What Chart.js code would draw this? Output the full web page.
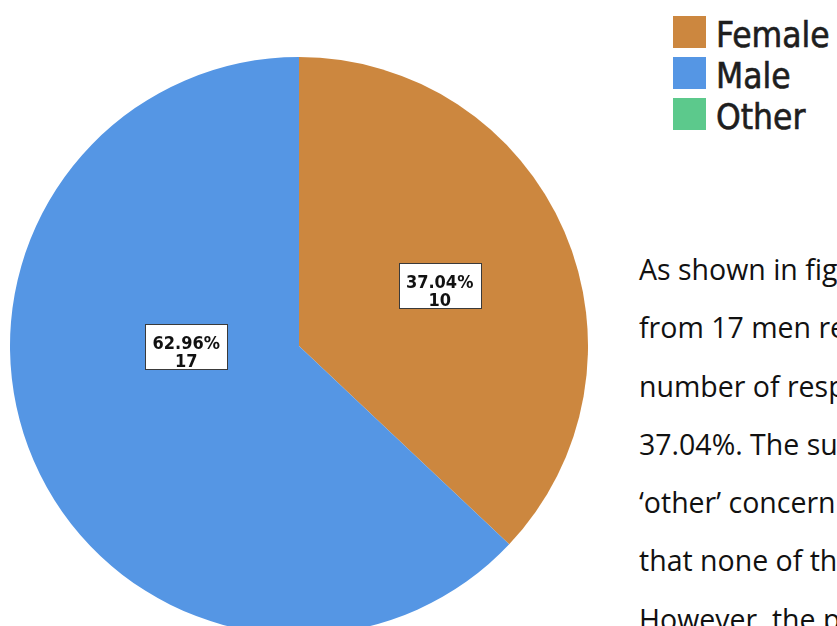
<!DOCTYPE html>
<html>
<head>
<meta charset="utf-8">
<script src="https://cdn.jsdelivr.net/npm/chart.js@4/dist/chart.umd.min.js"></script>
<style>
  html, body { margin:0; padding:0; background:#fff; width:837px; height:626px; overflow:hidden; }
  #pieWrap { position:absolute; left:10px; top:57px; width:578px; height:578px; }
  #legend { position:absolute; left:673px; top:15px; font-family:"DejaVu Sans Condensed", "DejaVu Sans", sans-serif; font-size:35px; color:#1e1e1e; }
  .lg { position:relative; height:41px; }
  .lg .sw { position:absolute; left:0; top:1px; width:33px; height:32px; }
  .lg .tx { position:absolute; left:43px; top:0px; white-space:nowrap; line-height:41px; -webkit-text-stroke:0.6px #1e1e1e; }
  #body { position:absolute; left:639px; top:240px; font-family:"Open Sans", sans-serif; font-size:28.5px; line-height:58.3px; color:#111; white-space:nowrap; }
</style>
</head>
<body>
<div id="pieWrap"><canvas id="c" width="578" height="578"></canvas></div>
<div id="legend"></div>
<div id="body"></div>
<script>
const categories = ["Female", "Male", "Other"];
const counts = [10, 17, 0];
const colors = ["#CC873F", "#5596E4", "#5CC98C"];
const paragraphLines = [
  "As shown in figure 1, the responses came",
  "from 17 men representing the largest",
  "number of respondents, and 10 women,",
  "37.04%. The survey also included an",
  "\u2018other\u2019 concerning gender, which shows",
  "that none of the respondents selected it.",
  "However, the participants were"
];

const total = counts.reduce((a, b) => a + b, 0);

const legend = document.getElementById('legend');
categories.forEach((c, i) => {
  const row = document.createElement('div'); row.className = 'lg';
  const sw = document.createElement('div'); sw.className = 'sw'; sw.style.background = colors[i];
  const tx = document.createElement('div'); tx.className = 'tx'; tx.textContent = c;
  row.appendChild(sw); row.appendChild(tx); legend.appendChild(row);
});
const body = document.getElementById('body');
paragraphLines.forEach(l => { const d = document.createElement('div'); d.textContent = l; body.appendChild(d); });

const boxLabels = {
  id: 'boxLabels',
  afterDatasetsDraw(chart, args, opts) {
    const ctx = chart.ctx;
    const meta = chart.getDatasetMeta(0);
    meta.data.forEach((arc, i) => {
      const v = counts[i];
      if (!v) return;
      const p = arc.getProps(['x', 'y', 'startAngle', 'endAngle', 'outerRadius'], true);
      const pl = opts.placements[i] || {};
      const ang = (pl.angle !== undefined) ? pl.angle : (p.startAngle + p.endAngle) / 2;
      const r = p.outerRadius * (pl.r || 0.5);
      const x = p.x + Math.cos(ang) * r;
      const y = p.y + Math.sin(ang) * r;
      const l1 = (v / total * 100).toFixed(2) + '%';
      const l2 = String(v);
      ctx.save();
      ctx.font = 'bold 18px "DejaVu Sans Condensed", "DejaVu Sans", sans-serif';
      const w = Math.round(Math.max(ctx.measureText(l1).width, ctx.measureText(l2).width) + 15);
      const h = 45;
      const bx = Math.round(x - w / 2) + 0.5, by = Math.round(y - h / 2) + 0.5;
      ctx.fillStyle = '#fff';
      ctx.fillRect(bx, by, w, h);
      ctx.strokeStyle = '#3a3a3a';
      ctx.lineWidth = 1;
      ctx.strokeRect(bx, by, w, h);
      ctx.fillStyle = '#111';
      ctx.textAlign = 'center';
      ctx.textBaseline = 'alphabetic';
      ctx.fillText(l1, x, by + 24);
      ctx.fillText(l2, x, by + 42);
      ctx.restore();
    });
  }
};

new Chart(document.getElementById('c'), {
  type: 'pie',
  data: {
    labels: categories,
    datasets: [{ data: counts, backgroundColor: colors, borderWidth: 0 }]
  },
  options: {
    responsive: false,
    animation: false,
    layout: { padding: 0 },
    plugins: {
      legend: { display: false },
      tooltip: { enabled: false },
      boxLabels: { placements: [{ r: 0.53 }, { r: 0.39, angle: Math.PI }, {}] }
    }
  },
  plugins: [boxLabels]
});
</script>
</body>
</html>
